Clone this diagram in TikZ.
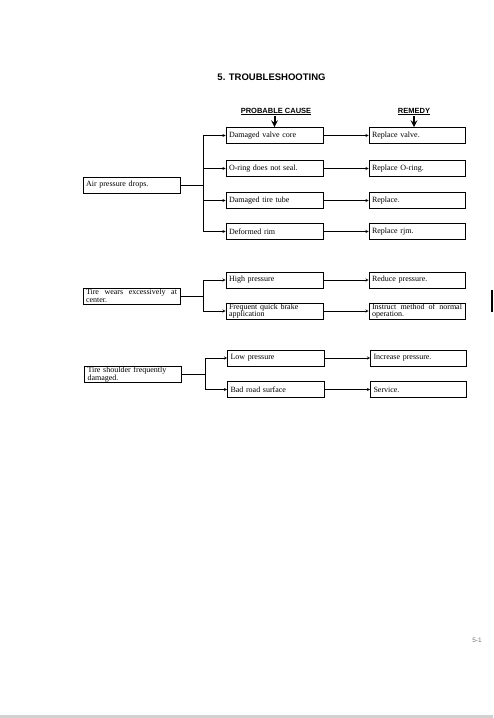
\documentclass[tikz,border=0pt]{standalone}
\usepackage{fontspec}
\setmainfont{Liberation Serif}
\setsansfont{Liberation Sans}
\usepackage{tikz}
\tikzset{
	chartbox/.style = {draw=black, rectangle, line width=0.6pt, align=left, text width=91pt, inner xsep=3pt, inner ysep=0.5pt, minimum height=16pt, font=\fontsize{8}{7.8}\selectfont},
	fault/.style = {chartbox},
	cause/.style = {chartbox},
	remedy/.style = {chartbox, text width=90pt},
	heading/.style = {inner sep=1pt, font=\sffamily\bfseries\fontsize{7.5}{8}\selectfont},
	link/.style = {->, >=stealth, line width=0.5pt},
	pointer/.style = {-stealth, line width=2pt},
}

\begin{document}
\begin{tikzpicture}[x=1pt, y=-1pt]
	\useasboundingbox (0,0) rectangle (493,718);
	\node[font=\sffamily\bfseries\fontsize{9.5}{10}\selectfont] (title) at (271.5,77.5) {5. TROUBLESHOOTING};
	\node[heading] (hcause) at (276,111.5) {\underline{PROBABLE CAUSE}};
	\node[heading] (hremedy) at (414,111.5) {\underline{REMEDY}};
	
	\node[fault](air) at (131.5,185) {Air pressure drops.};
	\node[cause](c1) at (274.5,135.5) {Damaged valve core};
	\node[cause](c2) at (274.5,168.5) {O-ring does not seal.};
	\node[cause](c3) at (274.5,200.5) {Damaged tire tube};
	\node[cause](c4) at (274.5,231.5) {Deformed rim};
	\node[remedy](r1) at (417,135.5) {Replace valve.};
	\node[remedy](r2) at (417,168.5) {Replace O-ring.};
	\node[remedy](r3) at (417,200.5) {Replace.};
	\node[remedy](r4) at (417,231.5) {Replace rjm.};
	
	\node[fault](wear) at (131.5,296) {Tire\hfill wears\hfill excessively\hfill at\\center.};
	\node[cause](c5) at (274.5,280) {High pressure};
	\node[cause](c6) at (274.5,311) {Frequent quick brake\\application};
	\node[remedy](r5) at (417,280) {Reduce pressure.};
	\node[remedy](r6) at (417,311) {Instruct\hfill method\hfill of\hfill normal\\operation.};
	
	\node[fault](shoulder) at (133,374.5) {Tire shoulder frequently\\damaged.};
	\node[cause](c7) at (276,358) {Low pressure};
	\node[cause](c8) at (276,389.5) {Bad road surface};
	\node[remedy](r7) at (418.5,358) {Increase pressure.};
	\node[remedy](r8) at (418.5,389.5) {Service.};
	
	\coordinate (fa) at ([xshift=23pt]air.east);
	\coordinate (fb) at ([xshift=23pt]wear.east);
	\coordinate (fc) at ([xshift=23pt]shoulder.east);
	\draw[line width=0.5pt] (air.east) -- (fa);
	\draw[line width=0.5pt] (wear.east) -- (fb);
	\draw[line width=0.5pt] (shoulder.east) -- (fc);
	\foreach \c in {c1,c2,c3,c4} \draw[link] (fa) |- (\c.west);
	\foreach \c in {c5,c6} \draw[link] (fb) |- (\c.west);
	\foreach \c in {c7,c8} \draw[link] (fc) |- (\c.west);
	\foreach \n in {1,...,8} \draw[link] (c\n) -- (r\n);
	
	\draw[pointer] (c1.north |- hcause.south) -- (c1.north);
	\draw[pointer] (hremedy.south) -- (hremedy.south |- r1.north);
	
	\node[font=\sffamily\fontsize{6.5}{7}\selectfont, text=black!55] (page) at (477,640) {5-1};
	\fill[black] (490.5,290) rectangle (493,312);
	\fill[black!18] (0,715) rectangle (493,718);
\end{tikzpicture}
\end{document}
